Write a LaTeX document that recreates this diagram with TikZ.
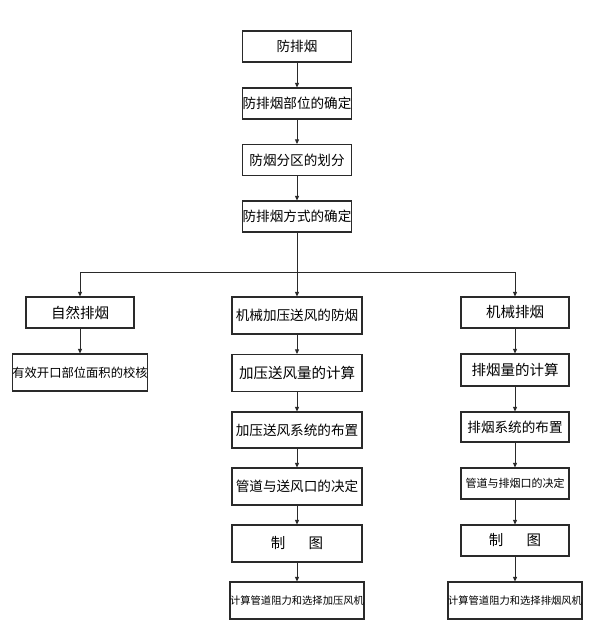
\documentclass[tikz,border=0pt]{standalone}
\usepackage{fontspec}
\newfontfamily\cjk{Noto Sans CJK SC}
\usetikzlibrary{arrows.meta}
\definecolor{ink}{HTML}{2A2A2A}
\tikzset{
  box/.style={draw=ink, line width=1.15pt, rectangle, inner sep=0pt, align=center, text=black, font=\cjk\fontsize{13.6}{16}\selectfont},
  arr/.style={draw=ink, line width=0.9pt, -{Triangle[length=4.5pt,width=4pt]}},
  ln/.style={draw=ink, line width=0.9pt}
}
\begin{document}
\begin{tikzpicture}[x=1pt,y=1pt]
\fill[white] (0,0) rectangle (591,-631);
\useasboundingbox (0,0) rectangle (591,-631);
% top chain
\node[box, minimum width=109pt, minimum height=31pt] (t1) at (297,-46.5) {防排烟};
\node[box, minimum width=109pt, minimum height=31pt] (t2) at (297,-103.5) {防排烟部位的确定};
\node[box, minimum width=109pt, minimum height=31pt] (t3) at (297,-160) {防烟分区的划分};
\node[box, minimum width=109pt, minimum height=31pt] (t4) at (297,-216.5) {防排烟方式的确定};
% left column
\node[box, minimum width=108pt, minimum height=31pt, font=\cjk\fontsize{14.5}{16}\selectfont] (l1) at (80,-312.5) {自然排烟};
\node[box, minimum width=131pt, minimum height=37pt, font=\cjk\fontsize{12.3}{14}\selectfont] (l2) at (80,-372.5) {有效开口部位面积的校核};
% middle column
\node[box, minimum width=130pt, minimum height=37pt] (m1) at (297,-315.5) {机械加压送风的防烟};
\node[box, minimum width=130pt, minimum height=37pt, font=\cjk\fontsize{14.5}{16}\selectfont] (m2) at (297,-373) {加压送风量的计算};
\node[box, minimum width=130pt, minimum height=36pt] (m3) at (297,-430) {加压送风系统的布置};
\node[box, minimum width=130pt, minimum height=37pt] (m4) at (297,-486.5) {管道与送风口的决定};
\node[box, minimum width=130pt, minimum height=37pt, font=\cjk\fontsize{14.5}{16}\selectfont] (m5) at (297,-543.5) {制\hspace{1.6em}图};
\node[box, minimum width=130pt, minimum height=37pt, font=\cjk\fontsize{10.3}{12}\selectfont] (m6) at (297,-600.5) {计算管道阻力和选择加压风机};
% right column
\node[box, minimum width=108pt, minimum height=31pt, font=\cjk\fontsize{14.5}{16}\selectfont] (r1) at (515,-312.5) {机械排烟};
\node[box, minimum width=108pt, minimum height=32pt, font=\cjk\fontsize{14.5}{16}\selectfont] (r2) at (515,-370) {排烟量的计算};
\node[box, minimum width=108pt, minimum height=30pt] (r3) at (515,-427) {排烟系统的布置};
\node[box, minimum width=108pt, minimum height=31pt, font=\cjk\fontsize{11}{13}\selectfont] (r4) at (515,-483.5) {管道与排烟口的决定};
\node[box, minimum width=108pt, minimum height=31pt, font=\cjk\fontsize{14.5}{16}\selectfont] (r5) at (515,-540.5) {制\hspace{1.6em}图};
\node[box, minimum width=130pt, minimum height=37pt, font=\cjk\fontsize{10.3}{12}\selectfont] (r6) at (515,-600.5) {计算管道阻力和选择排烟风机};
% junction
\coordinate (jl) at (80,-272);
\coordinate (jr) at (515,-272);
% connectors
\draw[arr] (t1) -- (t2);
\draw[arr] (t2) -- (t3);
\draw[arr] (t3) -- (t4);
\draw[arr] (t4.south) -- (m1.north);
\draw[ln] (jl) -- (jr);
\draw[arr] (jl) -- (l1.north);
\draw[arr] (jr) -- (r1.north);
\draw[arr] (l1) -- (l2);
\draw[arr] (m1) -- (m2);
\draw[arr] (m2) -- (m3);
\draw[arr] (m3) -- (m4);
\draw[arr] (m4) -- (m5);
\draw[arr] (m5) -- (m6);
\draw[arr] (r1) -- (r2);
\draw[arr] (r2) -- (r3);
\draw[arr] (r3) -- (r4);
\draw[arr] (r4) -- (r5);
\draw[arr] (r5) -- (r6);
\end{tikzpicture}
\end{document}
